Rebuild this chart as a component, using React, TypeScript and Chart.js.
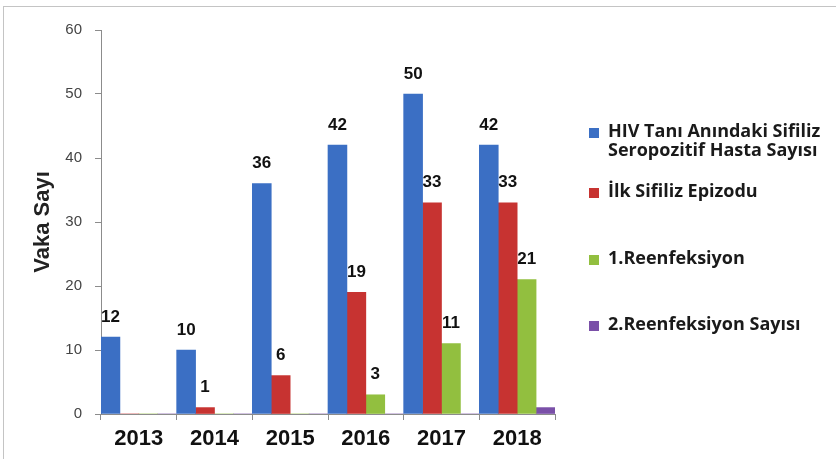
import React, { useEffect, useRef } from "react";
import { Chart, registerables } from "chart.js";

Chart.register(...registerables);

const years = ["2013", "2014", "2015", "2016", "2017", "2018"];
const seriesNames = [
  "HIV Tanı Anındaki Sifiliz\nSeropozitif Hasta Sayısı",
  "İlk Sifiliz Epizodu",
  "1.Reenfeksiyon",
  "2.Reenfeksiyon Sayısı",
];
const hivValues = [12, 10, 36, 42, 50, 42];
const firstEpisodeValues = [0, 1, 6, 19, 33, 33];
const reinfection1Values = [0, 0, 0, 3, 11, 21];
const reinfection2Values = [0, 0, 0, 0, 0, 1];
const seriesColors = ["#3b6fc4", "#c73331", "#92bf3f", "#7a50a8"];
const labelledSeries = [true, true, true, false];
const yMin = 0;
const yMax = 60;
const yStep = 10;
const yTitle = "Vaka Sayı";

const legendTops = [121, 181, 248, 314];

const dataLabelPlugin = {
  id: "dataLabels",
  afterDatasetsDraw(chart: any) {
    const ctx = chart.ctx;
    ctx.save();
    ctx.font = 'bold 17px "Liberation Sans", Arial, sans-serif';
    ctx.fillStyle = "#111";
    ctx.textAlign = "center";
    ctx.textBaseline = "middle";
    chart.data.datasets.forEach((ds: any, i: number) => {
      if (!labelledSeries[i]) return;
      const meta = chart.getDatasetMeta(i);
      meta.data.forEach((el: any, j: number) => {
        const v = ds.data[j];
        if (!v) return;
        ctx.fillText(String(v), el.x, el.y - 20);
      });
    });
    ctx.restore();
  },
};

if (typeof document !== "undefined") {
  document.body.style.margin = "0";
}

export default function App() {
  const canvasRef = useRef<HTMLCanvasElement | null>(null);

  useEffect(() => {
    const canvas = canvasRef.current;
    if (!canvas) return;
    const seriesValues = [hivValues, firstEpisodeValues, reinfection1Values, reinfection2Values];
    const axisColor = "#8c8c8c";
    const chart = new Chart(canvas, {
      type: "bar",
      data: {
        labels: years,
        datasets: seriesNames.map((name, i) => ({
          label: name,
          data: seriesValues[i],
          backgroundColor: seriesColors[i],
          borderWidth: 0,
          barPercentage: 1,
          categoryPercentage: 1,
        })),
      },
      options: {
        responsive: false,
        animation: false,
        layout: { padding: { top: 30, right: 281, left: 0, bottom: 0 } },
        plugins: {
          legend: { display: false },
          tooltip: { enabled: false },
        },
        scales: {
          x: {
            grid: {
              offset: true,
              drawOnChartArea: false,
              drawTicks: true,
              tickLength: 6,
              color: axisColor,
            },
            border: { color: axisColor },
            ticks: {
              color: "#111",
              padding: 6,
              font: { family: '"Liberation Sans", Arial, sans-serif', size: 22, weight: "bold" },
            },
            afterFit: (s: any) => {
              s.height = 45;
            },
          },
          y: {
            min: yMin,
            max: yMax,
            grid: {
              drawOnChartArea: false,
              drawTicks: true,
              tickLength: 6,
              color: axisColor,
            },
            border: { color: axisColor },
            ticks: {
              stepSize: yStep,
              color: "#444",
              padding: 13,
              font: { family: '"Liberation Sans", Arial, sans-serif', size: 15 },
            },
            title: {
              display: true,
              text: yTitle,
              color: "#222",
              padding: { top: 30, bottom: 0 },
              font: { family: '"Liberation Sans", Arial, sans-serif', size: 22, weight: "bold" },
            },
            afterFit: (s: any) => {
              s.width = 101;
            },
          },
        },
      },
      plugins: [dataLabelPlugin],
    } as any);
    return () => chart.destroy();
  }, []);

  return (
    <div style={{ position: "relative", width: 836, height: 459, background: "#fff", overflow: "hidden" }}>
      <div
        style={{
          position: "absolute",
          left: 3,
          top: 6,
          right: 0,
          bottom: 0,
          borderTop: "1px solid #c4c4c4",
          borderLeft: "1px solid #c4c4c4",
        }}
      />
      <canvas ref={canvasRef} width={836} height={459} style={{ position: "absolute", left: 0, top: 0 }} />
      {seriesNames.map((name, i) => (
        <div
          key={name}
          style={{
            position: "absolute",
            left: 589,
            top: legendTops[i],
            display: "flex",
            alignItems: "flex-start",
            fontFamily: '"Open Sans", Lato, sans-serif',
            fontWeight: 700,
            fontSize: 18,
            lineHeight: "19px",
            color: "#1a1a1a",
            whiteSpace: "nowrap",
          }}
        >
          <span
            style={{
              display: "inline-block",
              width: 10,
              height: 10,
              marginTop: 7,
              marginRight: 9,
              background: seriesColors[i],
              flex: "none",
            }}
          />
          <span style={{ whiteSpace: "pre" }}>{name}</span>
        </div>
      ))}
    </div>
  );
}
